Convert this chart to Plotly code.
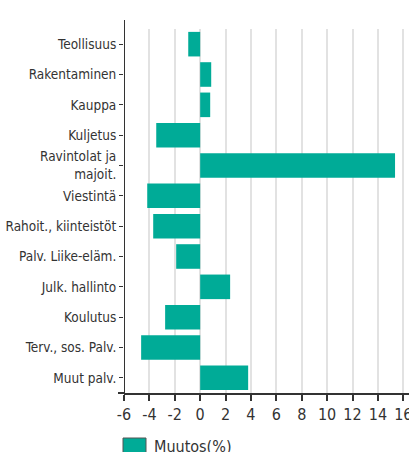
import plotly.graph_objects as go

categories = ["Teollisuus", "Rakentaminen", "Kauppa", "Kuljetus", "Ravintolat ja<br>majoit.",
              "Viestintä", "Rahoit., kiinteistöt", "Palv. Liike-eläm.", "Julk. hallinto",
              "Koulutus", "Terv., sos. Palv.", "Muut palv."]
muutos = [-0.94, 0.87, 0.79, -3.46, 15.35, -4.17, -3.7, -1.89, 2.36, -2.76, -4.65, 3.78]
tick_vals = [-6, -4, -2, 0, 2, 4, 6, 8, 10, 12, 14, 16]
series_name = "Muutos(%)"

FONT = "DejaVu Sans Condensed, Liberation Sans Narrow, sans-serif"
TEAL = "#00ab97"
W, H = 409, 452
L, T, B, R = 124, 29, 59, 0
PW, PH = W - L - R, H - T - B

fig = go.Figure()
fig.add_trace(go.Bar(
    y=categories, x=muutos, orientation="h", marker=dict(color=TEAL, line=dict(width=0)),
    name=series_name, showlegend=False,
))

fig.update_layout(
    width=W, height=H, margin=dict(l=L, r=R, t=T, b=B, pad=0, autoexpand=False),
    paper_bgcolor="white", plot_bgcolor="white",
    bargap=0.19,
    font=dict(family=FONT, size=14, color="#333333"),
    xaxis=dict(range=[-6, 16.45], tickvals=tick_vals, ticktext=[str(v) for v in tick_vals],
               automargin=False, ticklabeloverflow="allow",
               showgrid=True, gridcolor="#e2e2e2", gridwidth=1.5, zeroline=False,
               showline=True, linecolor="#333333", linewidth=2,
               ticks="outside", ticklen=6, tickwidth=1.5, tickcolor="#333333",
               tickfont=dict(family=FONT, size=16, color="#333333")),
    yaxis=dict(categoryorder="array", categoryarray=categories, autorange="reversed",
               automargin=False,
               showgrid=False, zeroline=False, showline=False,
               ticks="outside", ticklen=4, tickwidth=1, tickcolor="#333333",
               tickfont=dict(family=FONT, size=13.5, color="#333333")),
    shapes=[
        dict(type="line", xref="x", yref="paper", x0=-6, x1=-6, y0=0, y1=1 + 9 / PH,
             line=dict(color="#333333", width=2)),
        dict(type="line", xref="paper", yref="paper", x0=-6 / PW, x1=0, y0=0, y1=0,
             line=dict(color="#333333", width=2)),
        dict(type="rect", xref="paper", yref="paper",
             x0=-1 / PW, x1=22 / PW, y0=-(458 - (T + PH)) / PH, y1=-(438 - (T + PH)) / PH,
             fillcolor=TEAL, line=dict(color="#555555", width=1)),
    ],
    annotations=[
        dict(text=series_name, xref="paper", yref="paper", x=28 / PW, y=-(435 - (T + PH)) / PH,
             xanchor="left", yanchor="top", showarrow=False,
             font=dict(family=FONT, size=16, color="#333333")),
        dict(text="(%)", xref="paper", yref="paper", x=(92 - L) / PW, y=1 + (T + 3) / PH,
             xanchor="center", yanchor="bottom", showarrow=False,
             font=dict(family=FONT, size=16, color="#333333")),
    ],
)

fig.write_html("out.html", config={"displayModeBar": False},
               post_script="document.body.style.margin='0';document.body.style.overflow='hidden';")
